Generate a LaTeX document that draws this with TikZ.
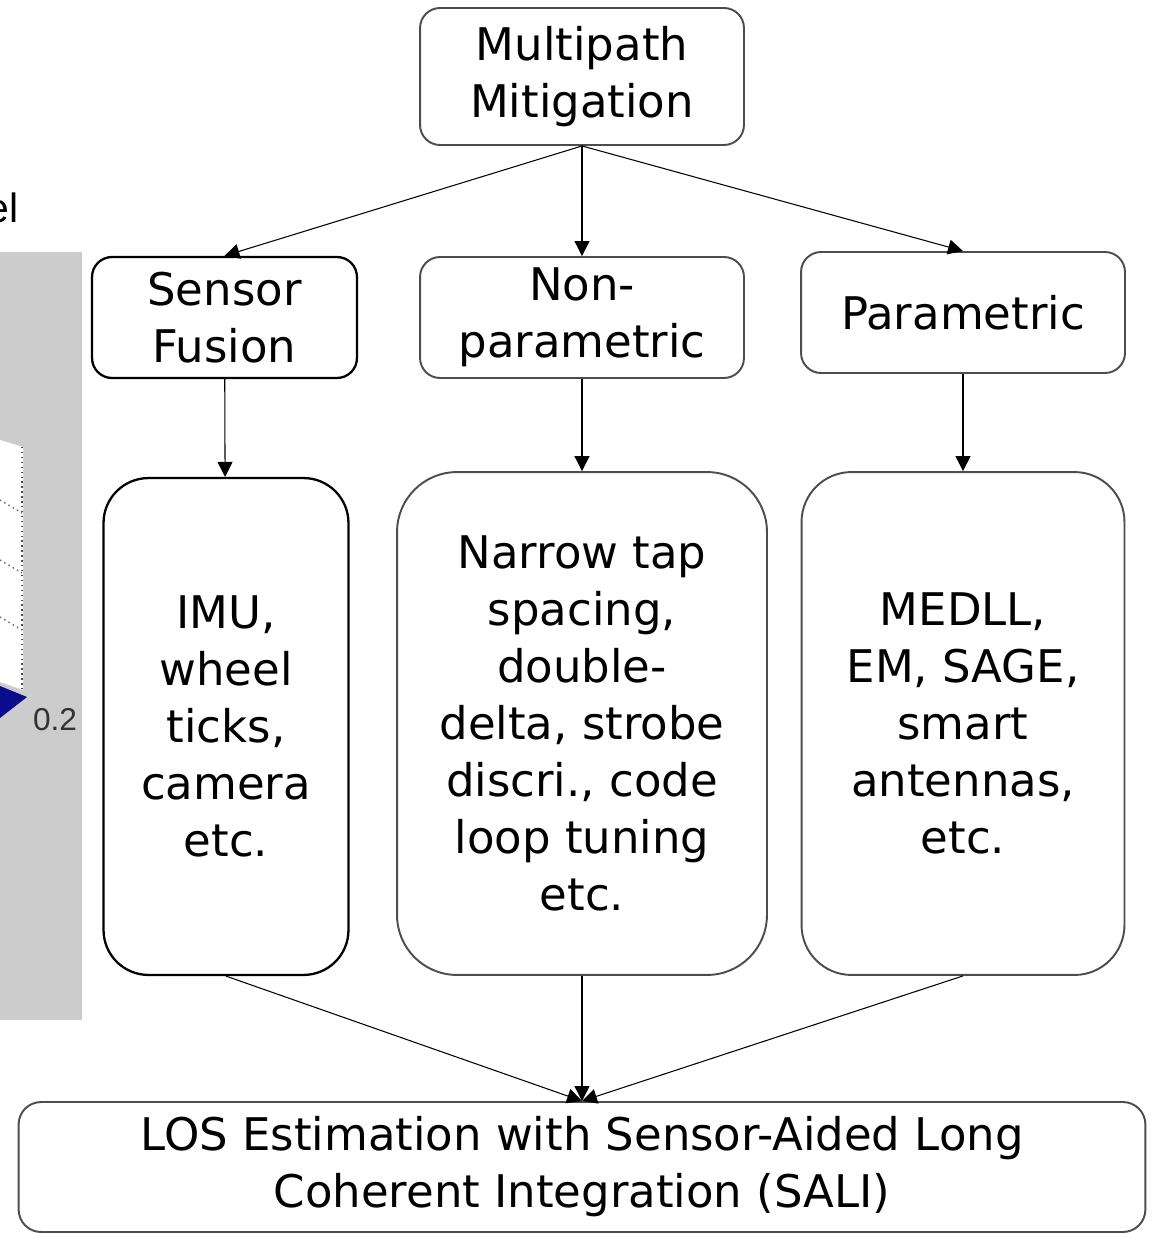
\documentclass[tikz,border=0pt]{standalone}
\usepackage{fontspec}
\setmainfont{DejaVu Sans}
\newfontfamily\plotfont{Liberation Sans}
\usetikzlibrary{arrows.meta}
\definecolor{plotgrey}{HTML}{CCCCCC}
\definecolor{plotblue}{HTML}{0A0A8C}
\definecolor{boxline}{HTML}{4D4D4D}
\begin{document}
\begin{tikzpicture}[x=0.02cm,y=-0.02cm, line join=round, >={Triangle[length=8.5pt,width=8.5pt]},
		box/.style={draw=boxline, line width=1.1pt, rounded corners=0.4cm, align=center, inner sep=0pt,
			font=\fontsize{25.6}{32.4}\selectfont},
		tallbox/.style={box, rounded corners=1cm},
		link/.style={->, line width=0.6pt}]
	\useasboundingbox (0,0) rectangle (1153,1233);
	% Rest des Plots am linken Rand
	\node[anchor=base east, inner sep=0pt, font=\plotfont\fontsize{23.3}{28}\selectfont] (plottitle) at (19,222) {el};
	\fill[plotgrey] (0,252) rectangle (82,1020);
	\fill[white] (0,440) -- (23,447) -- (23,690) -- (0,682) -- cycle;
	\draw[dotted, line width=0.8pt, black!70] (22,447) -- (22,690);
	\foreach \y in {500,560,617} {
		\draw[dotted, line width=0.8pt, black!60] (0,\y) -- (22,\y+13);
	}
	\fill[plotblue] (0,686) -- (27,697) -- (0,718) -- cycle;
	\node[font=\plotfont\fontsize{18}{20}\selectfont, text=black!80] (ticklabel) at (55,720) {0.2};
	% Kaesten
	\node[box, minimum width=6.48cm, minimum height=2.74cm] (mm) at (582,76.5) {Multipath\\Mitigation};
	\node[box, draw=black, line width=1.3pt, minimum width=5.3cm, minimum height=2.42cm] (sf) at (224.5,317.5) {Sensor\\Fusion};
	\node[box, minimum width=6.48cm, minimum height=2.42cm] (np) at (582,317.5) {Non-\\parametric};
	\node[box, minimum width=6.48cm, minimum height=2.42cm] (pm) at (963,312.5) {Parametric};
	\node[tallbox, draw=black, line width=1.3pt, rounded corners=0.9cm, minimum width=4.9cm, minimum height=9.94cm] (imu) at (226,726.5) {IMU,\\wheel\\ticks,\\camera\\etc.};
	\node[tallbox, rounded corners=1.2cm, minimum width=7.4cm, minimum height=10.06cm] (nt) at (582,723.5) {Narrow tap\\spacing,\\double-\\delta, strobe\\discri., code\\loop tuning\\etc.};
	\node[tallbox, minimum width=6.46cm, minimum height=10.06cm] (med) at (963,723.5) {MEDLL,\\EM, SAGE,\\smart\\antennas,\\etc.};
	\node[box, rounded corners=0.45cm, minimum width=22.54cm, minimum height=2.6cm] (los) at (582,1167) {LOS Estimation with Sensor-Aided Long\\Coherent Integration (SALI)};
	% Pfeile
	\foreach \n in {sf,np,pm} {
		\draw[link] (mm.south) -- (\n.north);
	}
	\draw[link] (sf) -- (imu);
	\draw[link] (np) -- (nt);
	\draw[link] (pm) -- (med);
	\foreach \n in {imu,nt,med} {
		\draw[link] (\n.south) -- (los.north);
	}
\end{tikzpicture}
\end{document}
